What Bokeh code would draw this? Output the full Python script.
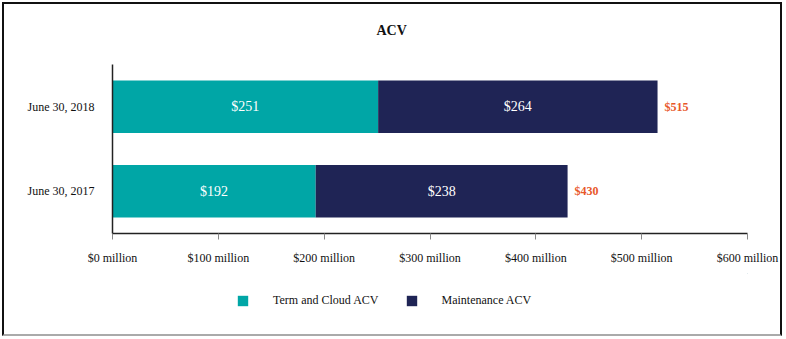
from bokeh.plotting import figure
from bokeh.layouts import column
from bokeh.models import (ColumnDataSource, LabelSet, Legend, LegendItem, Title,
                          PrintfTickFormatter, FixedTicker, Range1d, FactorRange)
from bokeh.embed import file_html
from bokeh.resources import INLINE

categories = ["June 30, 2017", "June 30, 2018"]
term_cloud = [192, 251]
maintenance = [238, 264]
totals = [430, 515]
x_ticks = [0, 100, 200, 300, 400, 500, 600]
series_names = ["Term and Cloud ACV", "Maintenance ACV"]
title_text = "ACV"

TEAL = "#00A6A6"
NAVY = "#1F2455"
ORANGE = "#E8582A"
FONT = "Liberation Serif"

src = ColumnDataSource(dict(
    cat=categories,
    term=term_cloud,
    maint=maintenance,
    total=totals,
    term_mid=[t / 2 for t in term_cloud],
    maint_mid=[t + m / 2 for t, m in zip(term_cloud, maintenance)],
    term_lbl=["$%d" % v for v in term_cloud],
    maint_lbl=["$%d" % v for v in maintenance],
    total_lbl=["$%d" % v for v in totals],
))

p = figure(width=776, height=269, output_backend="svg", toolbar_location=None,
           y_range=FactorRange(*categories, range_padding=0),
           x_range=Range1d(0, 600), title=title_text,
           min_border_left=108, min_border_right=33, min_border_top=60, min_border_bottom=40)
p.outline_line_color = None
p.xgrid.grid_line_color = None
p.ygrid.grid_line_color = None

p.title.align = "left"
p.title.offset = 264
p.title.text_font = FONT
p.title.text_font_size = "14px"
p.title.text_font_style = "bold"
p.title.text_color = "#111111"
p.title.standoff = 10

# blank spacer between the frame and the title
p.add_layout(Title(text=" ", text_font_size="1px", standoff=19), "above")

p.hbar_stack(["term", "maint"], y="cat", height=0.62, color=[TEAL, NAVY],
             source=src, line_color=None)

p.add_layout(LabelSet(x="term_mid", y="cat", text="term_lbl", source=src,
                      text_align="center", text_baseline="middle", text_color="white",
                      text_font=FONT, text_font_size="14px"))
p.add_layout(LabelSet(x="maint_mid", y="cat", text="maint_lbl", source=src,
                      text_align="center", text_baseline="middle", text_color="white",
                      text_font=FONT, text_font_size="14px"))
p.add_layout(LabelSet(x="total", y="cat", text="total_lbl", source=src, x_offset=7,
                      text_align="left", text_baseline="middle", text_color=ORANGE,
                      text_font=FONT, text_font_size="12px", text_font_style="bold"))

# axes
p.xaxis.ticker = FixedTicker(ticks=x_ticks)
p.xaxis.formatter = PrintfTickFormatter(format="$%d million")
p.xaxis.major_label_text_font = FONT
p.xaxis.major_label_text_font_size = "12px"
p.xaxis.major_label_text_color = "#111111"
p.xaxis.major_label_standoff = 11
p.xaxis.major_tick_in = 0
p.xaxis.major_tick_out = 6
p.xaxis.major_tick_line_color = "#888888"
p.xaxis.minor_tick_line_color = None
p.xaxis.axis_line_color = "#222222"
p.xaxis.axis_line_width = 1.5

p.yaxis.major_label_text_font = FONT
p.yaxis.major_label_text_font_size = "12px"
p.yaxis.major_label_text_color = "#111111"
p.yaxis.major_label_standoff = 12
p.yaxis.major_tick_line_color = None
p.yaxis.minor_tick_line_color = None
p.yaxis.axis_line_color = "#222222"
p.yaxis.axis_line_width = 1.5

# legend panel (separate small figure below the chart; its frame aligns with the chart's)
pl = figure(width=776, height=61, output_backend="svg", toolbar_location=None,
            x_range=Range1d(0, 1), y_range=Range1d(0, 1),
            x_axis_location=None, y_axis_location=None,
            min_border=0, min_border_left=0, min_border_right=0,
            min_border_top=0, min_border_bottom=0)
pl.outline_line_color = None
pl.xgrid.grid_line_color = None
pl.ygrid.grid_line_color = None
# renderers kept outside the visible range: they only provide the legend swatches
r1 = pl.hbar(y=[5], left=[4], right=[5], height=0.5, color=TEAL, line_color=None)
r2 = pl.hbar(y=[5], left=[4], right=[5], height=0.5, color=NAVY, line_color=None)
legend = Legend(items=[LegendItem(label=series_names[0], renderers=[r1]),
                       LegendItem(label=series_names[1], renderers=[r2])],
                orientation="horizontal", location=(124, 26),
                glyph_width=13, glyph_height=13, label_standoff=24, spacing=26,
                padding=0, margin=0, border_line_color=None, background_fill_alpha=0,
                label_text_font=FONT, label_text_font_size="12px", label_text_color="#111111")
pl.add_layout(legend, "center")

layout = column(p, pl, width=780, height=334, spacing=0,
                styles={"margin-left": "2px", "margin-top": "2px",
                        "border": "2px solid #111111", "border-bottom-color": "#AAAAAA",
                        "box-sizing": "border-box"})

open("out.html", "w").write(file_html(layout, INLINE))
